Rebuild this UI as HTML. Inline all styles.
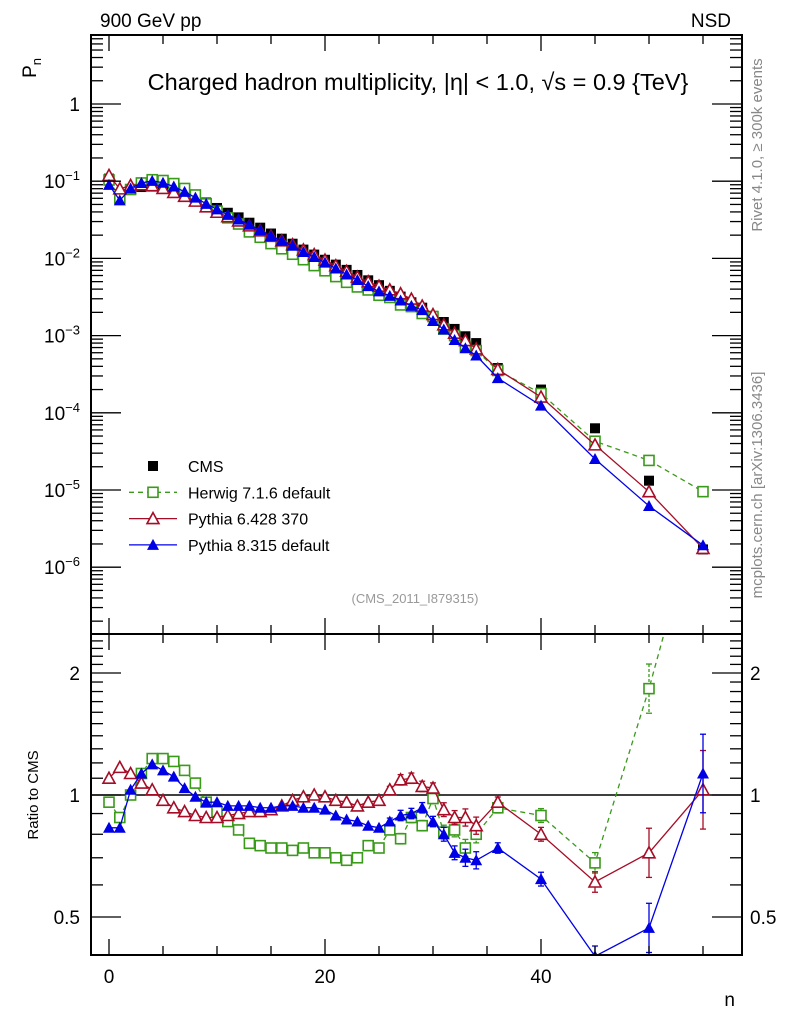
<!DOCTYPE html>
<html><head><meta charset="utf-8"><style>
html,body{margin:0;padding:0;background:#fff;}
svg{display:block;font-family:"Liberation Sans",sans-serif;}
</style></head><body>
<svg id="chart" width="786" height="1024" viewBox="0 0 786 1024" xmlns="http://www.w3.org/2000/svg">
<defs>
<clipPath id="ct"><rect x="91" y="35" width="651" height="599"/></clipPath>
<clipPath id="cb"><rect x="91" y="634" width="651" height="321"/></clipPath>
</defs>
<g id="topPanel"></g>
<g id="botPanel"></g>
<g id="axes"></g>
<text x="100" y="27" font-size="19">900 GeV pp</text>
<text x="731" y="27" font-size="19" text-anchor="end">NSD</text>
<text x="418" y="90" font-size="23.5" text-anchor="middle">Charged hadron multiplicity, |η| &lt; 1.0, √s = 0.9 {TeV}</text>
<text transform="translate(36,58) rotate(-90)" font-size="19" text-anchor="end">P<tspan font-size="13" dy="5">n</tspan></text>
<text transform="translate(38,795) rotate(-90)" font-size="15" text-anchor="middle">Ratio to CMS</text>
<text x="735" y="1006" font-size="19" text-anchor="end">n</text>
<text x="415" y="603" font-size="13" fill="#999" text-anchor="middle">(CMS_2011_I879315)</text>
<text transform="translate(762,145) rotate(-90)" font-size="15" fill="#888" text-anchor="middle">Rivet 4.1.0, ≥ 300k events</text>
<text transform="translate(762,485) rotate(-90)" font-size="15" fill="#888" text-anchor="middle">mcplots.cern.ch [arXiv:1306.3436]</text>
<g id="legend"></g>
</svg>
<script>
const nVals=[0,1,2,3,4,5,6,7,8,9,10,11,12,13,14,15,16,17,18,19,20,21,22,23,24,25,26,27,28,29,30,31,32,33,34,36,40,45,50,55];
const cmsVals=[0.108,0.068,0.078,0.084,0.085,0.083,0.077,0.070,0.062,0.053,0.045,0.039,0.034,0.029,0.025,0.021,0.018,0.0155,0.013,0.0112,0.0096,0.0083,0.0071,0.0061,0.0052,0.0045,0.0038,0.0032,0.0027,0.0023,0.0018,0.0015,0.00122,0.00098,0.0008,0.00038,0.0002,0.000063,0.0000132,0.0000017];
const herwigRatio=[0.96,0.88,1.0,1.13,1.23,1.23,1.21,1.15,1.07,0.96,0.91,0.86,0.82,0.76,0.75,0.74,0.74,0.73,0.74,0.72,0.72,0.70,0.69,0.70,0.75,0.74,0.82,0.78,0.88,0.84,0.98,0.81,0.82,0.74,0.80,0.93,0.89,0.68,1.83,5.6];
const py6Ratio=[1.10,1.17,1.13,1.07,1.03,0.97,0.93,0.91,0.89,0.88,0.88,0.89,0.90,0.91,0.91,0.92,0.94,0.97,0.99,1.0,0.99,0.97,0.96,0.94,0.96,0.97,1.03,1.09,1.10,1.05,1.04,0.92,0.88,0.88,0.84,0.96,0.80,0.61,0.72,1.03];
const py8Ratio=[0.83,0.83,1.03,1.13,1.19,1.15,1.11,1.04,0.99,0.96,0.96,0.94,0.94,0.94,0.93,0.93,0.94,0.94,0.93,0.93,0.92,0.89,0.87,0.86,0.84,0.83,0.86,0.89,0.90,0.93,0.86,0.80,0.72,0.70,0.69,0.74,0.62,0.40,0.47,1.13];
const errRatio=[0,0,0,0,0,0,0,0,0,0,0,0,0,0,0,0,0,0,0,0,0,0,0,0,0,0,0.02,0.03,0.03,0.03,0.03,0.04,0.04,0.05,0.05,0.03,0.04,0.06,0.15,0.25];
const xTicks=[0,20,40];
const yTickExp=[0,-1,-2,-3,-4,-5,-6];
const rTicks=[0.5,1,2];

const NS="http://www.w3.org/2000/svg";
const L=91,R=742,T=35,M=634,B=955;
const xs=n=>109+n*10.8;
const ys=v=>104-77.2*Math.log10(v);
const yr=r=>795-122*Math.log2(r);
function mk(tag,attrs,parent){const e=document.createElementNS(NS,tag);for(const k in attrs)e.setAttribute(k,attrs[k]);parent.appendChild(e);return e;}
const gTop=document.getElementById('topPanel'),gBot=document.getElementById('botPanel'),ax=document.getElementById('axes'),leg=document.getElementById('legend');
const gT=mk('g',{'clip-path':'url(#ct)'},gTop);
const gB=mk('g',{'clip-path':'url(#cb)'},gBot);
const one=mk('line',{x1:L,x2:R,y1:yr(1),y2:yr(1),stroke:'#000','stroke-width':1.5},gB);



function marker(kind,x,y,col,g){
  let e;
  if(kind==='sq') e=mk('rect',{x:x-5,y:y-5,width:10,height:10,fill:'#fff',stroke:col,'stroke-width':1.6},g);
  else if(kind==='bsq') e=mk('rect',{x:x-5,y:y-5,width:10,height:10,fill:'#000'},g);
  else if(kind==='otri') e=mk('path',{d:`M${x},${y-6}L${x+6},${y+5}L${x-6},${y+5}Z`,fill:'#fff',stroke:col,'stroke-width':1.6},g);
  else e=mk('path',{d:`M${x},${y-6}L${x+6},${y+5}L${x-6},${y+5}Z`,fill:col},g);
  return e;
}
const series=[
 {name:'herwig',ratio:herwigRatio,col:'#3a9a1a',m:'sq',dash:'5,4'},
 {name:'pythia6',ratio:py6Ratio,col:'#a50d26',m:'otri',dash:''},
 {name:'pythia8',ratio:py8Ratio,col:'#0000e6',m:'ftri',dash:''}];
nVals.forEach((n,i)=>{
  const e=marker('bsq',xs(n),ys(cmsVals[i]),'#000',gT);
  
  
});
series.forEach(s=>{
  const ptsT=nVals.map((n,i)=>`${xs(n)},${ys(cmsVals[i]*s.ratio[i])}`).join(' ');
  const ptsB=nVals.map((n,i)=>`${xs(n)},${yr(s.ratio[i])}`).join(' ');
  const lt=mk('polyline',{points:ptsT,fill:'none',stroke:s.col,'stroke-width':1.3,'stroke-dasharray':s.dash||'none'},gT);
  
  
  const lb=mk('polyline',{points:ptsB,fill:'none',stroke:s.col,'stroke-width':1.3,'stroke-dasharray':s.dash||'none'},gB);
  
  
  nVals.forEach((n,i)=>{
    const r=s.ratio[i],er=errRatio[i];
    if(er>0){
      const eb=mk('line',{x1:xs(n),x2:xs(n),y1:yr(r*(1+er)),y2:yr(r/(1+er)),stroke:s.col,'stroke-width':1.3,'stroke-dasharray':s.dash?'3,2':'none'},gB);
      
      
      [r*(1+er),r/(1+er)].forEach(v=>mk('line',{x1:xs(n)-3,x2:xs(n)+3,y1:yr(v),y2:yr(v),stroke:s.col,'stroke-width':1.3},gB));
    }
    const a=marker(s.m,xs(n),ys(cmsVals[i]*r),s.col,gT);
    
    
    const b=marker(s.m,xs(n),yr(r),s.col,gB);
    
    
  });
});
[[L,T,R-L,M-T],[L,M,R-L,B-M]].forEach(f=>mk('rect',{x:f[0],y:f[1],width:f[2],height:f[3],fill:'none',stroke:'#000','stroke-width':2},ax));
for(let n=0;n<=58;n+=5){
  const big=n%20===0, len=big?16:9;
  [[T,1],[M,1],[M,-1],[B,-1]].forEach(([y0,d])=>mk('line',{x1:xs(n),x2:xs(n),y1:y0,y2:y0+d*len,stroke:'#000','stroke-width':1.3},ax));
}
xTicks.forEach(n=>{const t=mk('text',{x:xs(n),y:983,'font-size':19,'text-anchor':'middle'},ax);t.textContent=n;
 });
for(let e=-7;e<=0;e++){
  for(let k=1;k<10;k++){
    const y=ys(k*Math.pow(10,e)); if(y<T||y>M) continue;
    const len=k===1?30:12;
    mk('line',{x1:L,x2:L+len,y1:y,y2:y,stroke:'#000','stroke-width':1.3},ax);
    mk('line',{x1:R,x2:R-len,y1:y,y2:y,stroke:'#000','stroke-width':1.3},ax);
  }
}
yTickExp.forEach(e=>{
  const t=mk('text',{x:80,y:ys(Math.pow(10,e))+7,'font-size':19,'text-anchor':'end'},ax);
  
  if(e===0) t.textContent='1';
  else {t.textContent='10';const s=document.createElementNS(NS,'tspan');s.setAttribute('dy','-8');s.setAttribute('font-size','13');s.textContent='−'+(-e);t.appendChild(s);}
});
for(let v=0.4;v<=2.5;v+=0.1){
  const y=yr(v); if(y<M||y>B) continue;
  const major=Math.abs(v-0.5)<1e-6||Math.abs(v-1)<1e-6||Math.abs(v-2)<1e-6;
  const len=major?30:12;
  mk('line',{x1:L,x2:L+len,y1:y,y2:y,stroke:'#000','stroke-width':1.3},ax);
  mk('line',{x1:R,x2:R-len,y1:y,y2:y,stroke:'#000','stroke-width':1.3},ax);
}
rTicks.forEach(v=>{
  const t1=mk('text',{x:80,y:yr(v)+7,'font-size':19,'text-anchor':'end'},ax);t1.textContent=v;
  
  const t2=mk('text',{x:750,y:yr(v)+7,'font-size':19},ax);t2.textContent=v;
  
});
const legItems=[['CMS','#000','bsq',''],['Herwig 7.1.6 default','#3a9a1a','sq','5,4'],['Pythia 6.428 370','#a50d26','otri',''],['Pythia 8.315 default','#0000e6','ftri','']];
legItems.forEach((it,i)=>{
  const y=466+i*26.3;
  const g=mk('g',{},leg);
  
  
  if(i>0) mk('line',{x1:129,x2:177,y1:y,y2:y,stroke:it[1],'stroke-width':1.3,'stroke-dasharray':it[3]||'none'},g);
  marker(it[2],153,y,it[1],g);
  const t=mk('text',{x:188,y:y+6,'font-size':16},g);t.textContent=it[0];
});
</script>
</body></html>
